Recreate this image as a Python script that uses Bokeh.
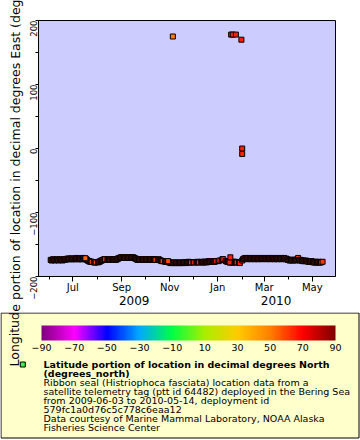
import math
import pandas as pd
from bokeh.plotting import figure
from bokeh.models import (ColumnDataSource, Range1d, FixedTicker, LinearAxis,
                          LinearColorMapper, ColorBar)
from bokeh.transform import transform
from bokeh.core.properties import value
from bokeh.embed import file_html
from bokeh.resources import INLINE

# ---------------- data ----------------
# daily longitude fixes (degrees East), one list per month; None = no fix
month_start = ["2009-06-03", "2009-07-01", "2009-08-01", "2009-09-01", "2009-10-01",
               "2009-11-01", "2009-12-01", "2010-01-01", "2010-02-01", "2010-03-01",
               "2010-04-01", "2010-05-01"]
lon_jun = [-174,-175,-174,-173,-174,-175,-174,-174,-173,-174,-175,-174,-173,-174,-174,
           -175,-174,-173,-174,-173,-173,-172,-173,-172,-173,-172,-172,-173]
lon_jul = [-172,-173,-172,-173,-172,-171,-172,-173,-172,-173,-172,-173,-172,-171,-172,
           -173,-172,-173,-174,-175,-176,-176,-177,-177,-177,None,None,-178,-178,-178,None]
lon_aug = [None,-178,-177,-177,-176,-175,-175,-174,-174,-173,-173,None,None,-174,-174,
           -173,-174,-174,-173,-174,-174,-173,-174,-173,-174,-173,-172,-172,-171,-171,-170]
lon_sep = [-170,-171,-170,-171,-170,-171,-170,-170,-171,-170,-171,-170,-171,-170,-171,
           -170,-171,-172,-172,-173,-174,-173,-174,-173,-174,-173,-174,-173,-174,-173]
lon_oct = [-174,-173,-174,-173,-174,-174,-173,-174,-173,-174,-173,-174,-173,-174,None,
           None,-174,-173,-174,-175,-175,-176,-176,None,None,-177,-177,-176,-177,-177,-178]
lon_nov = [-178,-179,-179,-178,-179,-179,-178,-179,-179,-178,-179,-179,-178,-179,-179,
           -178,-179,-179,-178,-178,-178,-179,-178,-178,-177,-178,-178,-178,None,None]
lon_dec = [-178,-178,None,None,-178,-177,-178,-178,None,None,-177,-178,-178,-177,-178,
           -177,-177,-178,-177,-177,-176,-177,-177,-176,-177,-176,-176,-177,-176,-176,None]
lon_jan = [None,-176,-175,None,None,-174,-173,-173,None,None,-176,-176,-177,-177,-177,
           -178,-177,-178,-178,-178,-177,-178,-177,-178,-178,None,None,-178,-179,None,None]
lon_feb = [-175,-173,-172,-172,-171,-172,-173,-172,-171,-172,-172,-173,-172,-171,-172,
           -172,-173,-172,-171,-172,-173,-172,-172,-171,-172,-173,-172,-172]
lon_mar = [-172,-171,-172,-173,-172,-172,-171,-172,-173,-172,-171,-172,-172,-173,-172,
           -171,-172,-173,-172,-172,-171,-172,-173,-172,-172,-171,-172,-173,-172,-173,-174]
lon_apr = [-174,-175,-174,-175,-174,-174,-175,-174,-174,-175,-174,-173,-171,-174,-175,
           -174,-175,-175,-176,-175,-176,-176,-175,-176,-176,-177,-176,-177,-177,-176]
lon_may = [-177,-178,-177,-178,-178,-177,-178,-178,-177,-178,-178,-178,None,-177]

# latitude of the same fixes (degrees North), used for the colour
lat_jun = [61.8,61.9,62.0,62.1,62.0,62.2,62.3,62.1,62.0,62.2,62.4,62.3,62.5,62.4,62.6,
           62.5,62.7,62.6,62.8,62.7,62.9,62.8,63.0,62.9,62.8,63.0,63.1,62.9]
lat_jul = [63.0,62.9,63.1,63.2,63.0,62.8,62.9,63.1,63.0,62.8,62.7,62.9,62.6,62.5,62.7,
           62.4,62.3,62.2,62.0,61.8,61.9,62.1,62.2,62.4,62.5,62.6,62.6,62.7,62.8,62.9,62.9]
lat_aug = [62.8,62.6,62.7,62.4,62.3,62.3,62.0,61.8,61.9,61.6,61.5,61.6,61.3,61.2,61.3,
           61.0,60.9,61.1,60.8,60.6,60.7,60.5,60.3,60.4,60.1,60.2,59.9,60.0,59.8,59.7,59.9]
lat_sep = [59.8,59.6,59.7,59.5,59.4,59.6,59.3,59.2,59.4,59.1,59.0,59.2,58.9,59.1,58.8,
           58.9,58.7,58.9,58.8,58.6,58.7,58.9,58.8,59.0,58.9,59.1,59.0,59.2,59.1,59.3]
lat_oct = [59.2,59.4,59.3,59.5,59.4,59.6,59.5,59.7,59.6,59.8,59.7,59.9,59.8,60.0,59.9,
           60.1,60.0,60.2,60.1,60.3,60.2,60.4,60.3,60.5,60.4,60.6,60.5,60.7,60.6,60.8,60.7]
lat_nov = [60.9,61.1,61.0,61.3,61.2,61.4,61.6,61.5,61.7,61.6,61.9,61.8,62.0,62.1,61.9,
           62.2,62.3,62.1,62.4,62.3,62.5,62.6,62.4,62.7,62.6,62.8,62.9,62.7,63.0,62.9]
lat_dec = [63.0,63.1,63.0,63.2,63.1,63.3,63.2,63.4,63.3,63.5,63.4,63.6,63.5,63.7,63.6,
           63.8,63.7,63.9,63.8,64.0,63.9,64.1,64.0,64.2,64.1,64.3,64.2,64.4,64.3,64.5,64.4]
lat_jan = [64.5,64.6,64.4,64.7,64.6,64.8,64.7,64.9,64.8,65.0,64.9,65.1,65.0,64.9,65.1,
           65.0,64.8,65.0,64.9,64.7,64.9,64.8,64.6,64.8,64.7,64.5,64.7,64.6,64.4,64.6,64.5]
lat_feb = [64.3,64.4,64.2,64.3,64.1,64.2,64.0,64.1,63.9,64.0,63.8,63.9,63.7,63.8,63.6,
           63.7,63.5,63.6,63.4,63.5,63.3,63.4,63.2,63.3,63.1,63.2,63.0,63.1]
lat_mar = [62.9,63.0,62.8,62.9,62.7,62.8,62.6,62.7,62.5,62.6,62.4,62.5,62.3,62.4,62.2,
           62.3,62.1,62.2,62.0,62.1,61.9,62.0,61.8,61.9,61.7,61.8,61.6,61.7,61.5,61.6,61.4]
lat_apr = [61.3,61.4,61.2,61.3,61.1,61.2,61.0,61.1,60.9,61.0,60.8,60.9,58.5,60.8,60.6,
           60.7,60.5,60.6,60.4,60.5,60.3,60.4,60.2,60.3,60.1,60.2,60.0,60.1,59.9,60.0]
lat_may = [60.0,60.2,60.1,60.3,60.2,60.4,60.3,60.5,60.4,60.6,60.5,60.7,60.6,61.5]

# isolated fixes that stand out from the track (drawn last)
extra_time = ["2009-07-17", "2009-10-30", "2009-11-05", "2010-01-17", "2010-01-16",
              "2010-01-18", "2010-01-20", "2010-01-24", "2010-01-31", "2010-02-01", "2010-02-01"]
extra_lon = [-171.5, -176, 175, -170, -178, 178, 178, 178, 170, 0, -8.5]
extra_lat = [54, 58, 50, 65, 65, 64, 64, 65, 65, 65, 65]

# axes / ticks
month_tick_dates = ["2009-07-01", "2009-09-01", "2009-11-01", "2010-01-01", "2010-03-01", "2010-05-01"]
month_labels = ["Jul", "Sep", "Nov", "Jan", "Mar", "May"]
month_minor_dates = ["2009-06-01", "2009-08-01", "2009-10-01", "2009-12-01", "2010-02-01", "2010-04-01"]
year_label_dates = ["2009-09-17", "2010-03-16"]
year_labels = ["2009", "2010"]
lon_ticks = [-200, -100, 0, 100, 200]
lon_minor_ticks = [-150, -50, 50, 150]
lat_ticks = [-90, -70, -50, -30, -10, 10, 30, 50, 70, 90]
palette_stops = ["#800080", "#ff00ff", "#0000ff", "#00aaff", "#00ff44",
                 "#aaee00", "#ffcc00", "#ff8000", "#ff0000", "#800000"]

legend_title = ["Latitude portion of location in decimal degrees North", "(degrees_north)"]
legend_lines = ["Ribbon seal (Histriophoca fasciata) location data from a",
                "satellite telemetry tag (ptt id 64482) deployed in the Bering Sea",
                "from 2009-06-03 to 2010-05-14, deployment id",
                "579fc1a0d76c5c778c6eaa12",
                "Data courtesy of Marine Mammal Laboratory, NOAA Alaska",
                "Fisheries Science Center"]
y_title = "Longitude portion of location in decimal degrees East (degrees_east)"

FONT = "DejaVu Sans"


def ms(s):
    return pd.Timestamp(s).value / 1e6


# ---------------- build table ----------------
lon_months = [lon_jun, lon_jul, lon_aug, lon_sep, lon_oct, lon_nov, lon_dec,
              lon_jan, lon_feb, lon_mar, lon_apr, lon_may]
lat_months = [lat_jun, lat_jul, lat_aug, lat_sep, lat_oct, lat_nov, lat_dec,
              lat_jan, lat_feb, lat_mar, lat_apr, lat_may]
frames = []
for start, lo, la in zip(month_start, lon_months, lat_months):
    frames.append(pd.DataFrame({"time": pd.date_range(start, periods=len(lo), freq="D"),
                                "lon": lo, "lat": la[:len(lo)]}))
band = pd.concat(frames, ignore_index=True).dropna(subset=["lon"])
extra = pd.DataFrame({"time": pd.to_datetime(extra_time), "lon": extra_lon, "lat": extra_lat})
df = pd.concat([band, extra], ignore_index=True)
df["lon"] = df["lon"].astype(float)
src = ColumnDataSource(df)


# palette built from the stops of the colour bar
def hex2rgb(h):
    return tuple(int(h[i:i + 2], 16) for i in (1, 3, 5))


palette = []
nseg = len(palette_stops) - 1
for i in range(256):
    t = i / 255 * nseg
    k = min(int(t), nseg - 1)
    f = t - k
    a, b = hex2rgb(palette_stops[k]), hex2rgb(palette_stops[k + 1])
    palette.append("#%02x%02x%02x" % tuple(round(a[j] + (b[j] - a[j]) * f) for j in range(3)))
mapper = LinearColorMapper(palette=palette, low=lat_ticks[0], high=lat_ticks[-1])

# ---------------- main plot ----------------
p = figure(width=360, height=312, x_axis_type="datetime", output_backend="svg",
           toolbar_location=None,
           x_range=Range1d(ms("2009-05-18 12:00"), ms("2010-05-30 10:00")),
           y_range=Range1d(lon_ticks[0], lon_ticks[-1]),
           min_border_left=38, min_border_right=25, min_border_top=20, min_border_bottom=36)
p.background_fill_color = "#ccccff"
p.border_fill_color = "white"
p.outline_line_color = "black"
p.outline_line_width = 1
p.grid.visible = False

xa = p.xaxis[0]
xa.ticker = FixedTicker(ticks=[ms(d) for d in month_tick_dates],
                        minor_ticks=[ms(d) for d in month_minor_dates])
xa.major_label_overrides = {ms(d): lab for d, lab in zip(month_tick_dates, month_labels)}
xa.major_tick_out = 5
xa.major_tick_in = 0
xa.minor_tick_out = 3
xa.minor_tick_in = 0
xa.major_label_standoff = 0
xa.major_label_text_font = FONT
xa.major_label_text_font_size = "10px"
xa.major_label_text_color = "black"
xa.major_tick_line_color = "black"
xa.minor_tick_line_color = "black"

ya = p.yaxis[0]
ya.ticker = FixedTicker(ticks=lon_ticks, minor_ticks=lon_minor_ticks)
ya.major_label_orientation = math.pi / 2
ya.major_tick_out = 3
ya.major_tick_in = 0
ya.minor_tick_out = 3
ya.minor_tick_in = 0
ya.major_label_standoff = 2
ya.major_label_text_font = FONT
ya.major_label_text_font_size = "8.5px"
ya.major_label_text_color = "black"
ya.axis_label = y_title + "\u00a0"
ya.axis_label_text_font = FONT
ya.axis_label_text_font_size = "12.5px"
ya.axis_label_text_font_style = "normal"
ya.axis_label_text_color = "black"
ya.axis_label_standoff = 1

year_axis = LinearAxis(ticker=FixedTicker(ticks=[ms(d) for d in year_label_dates], minor_ticks=[]),
                       major_label_overrides={ms(d): y for d, y in zip(year_label_dates, year_labels)},
                       axis_line_color=None, major_tick_line_color=None, minor_tick_line_color=None,
                       major_tick_out=0, major_tick_in=0, minor_tick_out=0, minor_tick_in=0,
                       major_label_standoff=0, major_label_text_font=FONT,
                       major_label_text_font_size="12px", major_label_text_color="black")
p.add_layout(year_axis, "below")

p.scatter(x="time", y="lon", source=src, marker="square", size=5,
          fill_color=transform("lat", mapper), line_color="black", line_width=1)

# ---------------- legend panel (pixel-like coordinates, y downward) ----------------
LH = 128
q = figure(width=360, height=LH, x_range=Range1d(0, 360), y_range=Range1d(LH, 0),
           x_axis_location=None, y_axis_location=None, toolbar_location=None,
           output_backend="svg", min_border=0)
q.outline_line_color = None
q.grid.visible = False
q.background_fill_color = "white"
q.border_fill_color = "white"

q.quad(left=0.5, right=358.5, top=0.5, bottom=125.5, fill_color="#ffffcc",
       line_color="black", line_width=1)

cbar = ColorBar(color_mapper=mapper, orientation="horizontal", location=(41, 87),
                width=294, height=15, padding=0, margin=0,
                ticker=FixedTicker(ticks=lat_ticks), label_standoff=3,
                major_label_text_font=FONT, major_label_text_font_size="9.5px",
                major_label_text_color="black",
                major_tick_line_color=None, minor_tick_line_color=None, bar_line_color=None,
                background_fill_alpha=0, border_line_color=None)
q.add_layout(cbar, "center")

# legend marker of the series
q.scatter(x=[22.3], y=[52], marker="square", size=5, fill_color="#44ee44",
          line_color="black", line_width=1)

n_title = len(legend_title)
all_lines = legend_title + legend_lines
txt = ColumnDataSource(dict(x=[43] * len(all_lines),
                            y=[52 + 9.05 * i for i in range(len(all_lines))],
                            t=all_lines,
                            style=["bold"] * n_title + ["normal"] * len(legend_lines)))
q.text(x="x", y="y", text="t", source=txt, text_font=value(FONT), text_font_size=value("9.5px"),
       text_font_style="style", text_baseline="middle", text_align="left", text_color="black")

# continuation of the long vertical axis title that runs over the legend box
q.text(x=[14], y=[54], text=[y_title], angle=math.pi / 2, text_font=value(FONT),
       text_font_size=value("12.5px"), text_baseline="middle", text_align="left",
       text_color="black")

open("out.html", "w").write(file_html([p, q], INLINE))
